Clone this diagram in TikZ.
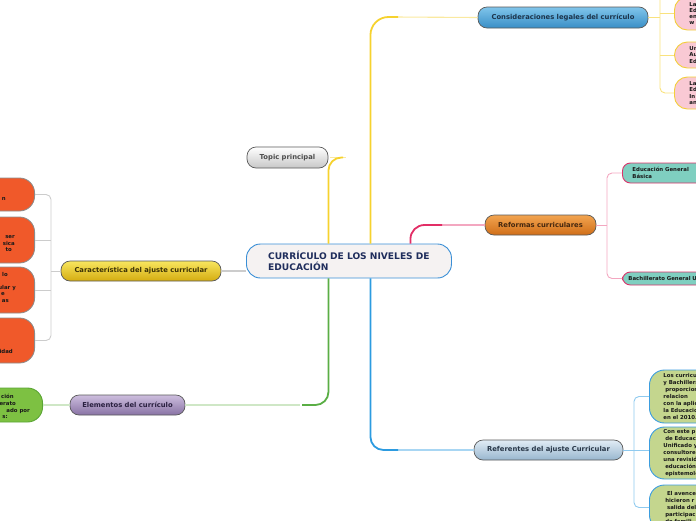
\documentclass[tikz,border=0pt]{standalone}
\usepackage{fontspec}
\setmainfont{DejaVu Sans}
\definecolor{cenfill}{HTML}{F5F2F2}
\definecolor{cenline}{HTML}{3A8FD6}
\definecolor{centext}{HTML}{1F2D5C}
\definecolor{ystrong}{HTML}{F6D22E}
\definecolor{ylight}{HTML}{FAE9A0}
\definecolor{rstrong}{HTML}{E22E66}
\definecolor{rlight}{HTML}{F3A7C0}
\definecolor{bstrong}{HTML}{2C9BE0}
\definecolor{blight}{HTML}{A8D6F3}
\definecolor{gstrong}{HTML}{5AAE45}
\definecolor{glight}{HTML}{CFE7C6}
\definecolor{graylink}{HTML}{CCCCCC}
\definecolor{pinkfill}{HTML}{F9C9D4}
\definecolor{pinkline}{HTML}{F2CF3A}
\definecolor{tealfill}{HTML}{7FCFC0}
\definecolor{tealline}{HTML}{D9336A}
\definecolor{olivefill}{HTML}{C4D68E}
\definecolor{oliveline}{HTML}{3B9DE0}
\definecolor{orangefill}{HTML}{F0592A}
\definecolor{greenfill}{HTML}{7DC142}
\definecolor{greenline}{HTML}{5AA534}
\begin{document}
\begin{tikzpicture}[x=1pt,y=-1pt,
  mainnode/.style={rounded corners=9pt, draw=black!65, line width=0.7pt,
    font=\bfseries\fontsize{6.8}{8}\selectfont, inner sep=0pt, minimum height=20pt},
  kid/.style={font=\bfseries\fontsize{5.4}{6.3}\selectfont, text=black!90, align=left, anchor=west, inner ysep=0pt},
  pinkkid/.style={kid, draw=pinkline, line width=0.9pt, fill=pinkfill, rounded corners=13pt, text width=90pt, inner xsep=15pt},
  tealkid/.style={kid, draw=tealline, line width=0.9pt, fill=tealfill, rounded corners=8pt, text width=110pt},
  olivekid/.style={kid, draw=oliveline, line width=0.9pt, fill=olivefill, rounded corners=15pt, text width=90pt, inner xsep=14pt, font=\bfseries\fontsize{5.4}{7.1}\selectfont},
  orangekid/.style={draw=black!45, line width=0.8pt, fill=orangefill, rounded corners=15pt, anchor=east, minimum width=80pt, inner sep=0pt},
  lefttext/.style={font=\bfseries\fontsize{5.4}{6}\selectfont, text=black!90, anchor=base east, inner sep=0pt},
  strongline/.style={line width=1.8pt, rounded corners=13pt},
  lightline/.style={line width=1.1pt},
  kidline/.style={line width=0.9pt, rounded corners=5pt}
]
\useasboundingbox (0,0) rectangle (696,520);
\clip (0,0) rectangle (696,520);

% ---------- main topics ----------
\node[rounded corners=14pt, draw=cenline, line width=0.9pt, fill=cenfill, text=centext,
  font=\bfseries\fontsize{9.1}{11}\selectfont, align=left, inner xsep=19pt, inner ysep=0pt,
  minimum width=205pt, minimum height=34pt, anchor=west] (cen) at (246,261)
  {CURRÍCULO DE LOS NIVELES DE\\EDUCACIÓN};

\node[mainnode, top color=white, bottom color=black!22, text=black!70,
  minimum width=81pt, minimum height=21pt] (topic) at (287.5,157.5) {Topic principal};
\node[mainnode, top color={rgb,255:red,128;green,197;blue,235}, bottom color={rgb,255:red,56;green,142;blue,198},
  text={rgb,255:red,28;green,52;blue,75}, minimum width=170pt, minimum height=21pt] (cons) at (563,17.5)
  {Consideraciones legales del currículo};
\node[mainnode, top color={rgb,255:red,242;green,164;blue,80}, bottom color={rgb,255:red,208;green,110;blue,24},
  text={rgb,255:red,70;green,40;blue,15}, minimum width=111pt] (ref) at (540.5,225) {Reformas curriculares};
\node[mainnode, top color={rgb,255:red,225;green,236;blue,245}, bottom color={rgb,255:red,152;green,182;blue,206},
  text={rgb,255:red,40;green,55;blue,72}, minimum width=149pt] (aju) at (548.5,450) {Referentes del ajuste Curricular};
\node[mainnode, top color={rgb,255:red,248;green,230;blue,95}, bottom color={rgb,255:red,212;green,172;blue,16},
  text={rgb,255:red,60;green,50;blue,5}, minimum width=160pt] (car) at (141,271) {Característica del ajuste curricular};
\node[mainnode, top color={rgb,255:red,205;green,190;blue,222}, bottom color={rgb,255:red,136;green,114;blue,164},
  text={rgb,255:red,42;green,32;blue,64}, minimum width=115pt] (ele) at (127.5,405) {Elementos del currículo};

% ---------- children: consideraciones ----------
\node[pinkkid, minimum height=33pt] (c1) at (674,13.5) {La\\Ed\\en\\w};
\node[pinkkid, minimum height=26pt] (c2) at (674,55) {Un\\Au\\Ed};
\node[pinkkid, minimum height=32pt] (c3) at (674,93) {La\\Ed\\In\\an};

% ---------- children: reformas ----------
\node[tealkid, minimum height=20pt, inner xsep=10pt] (r1) at (622,173) {Educación General\\Básica};
\node[tealkid, minimum height=13pt, inner xsep=6pt] (r2) at (622,278.5) {Bachillerato General U};

% ---------- children: referentes ----------
\node[olivekid, minimum height=53pt] (f1) at (649,396.5)
  {Los curricu\\y Bachillera\\\ proporcion\\relacion\\con la aplic\\la Educacio\\en el 2010.};
\node[olivekid, minimum height=52pt] (f2) at (649,453)
  {Con este p\\\ de Educaci\\Unificado y\\consultore\\una revisió\\\ educación\\\ epistemoló};
\node[olivekid, minimum height=45pt] (f3) at (649,507.5)
  {\ \ El avence\\\ hicieron r\\\ \ salida del\\\ participac\\\ de famili};

% ---------- children: caracteristica ----------
\node[orangekid, minimum height=33pt] (o1) at (35,194.5) {};
\node[orangekid, minimum height=46pt] (o2) at (35,240) {};
\node[orangekid, minimum height=46pt] (o3) at (35,290) {};
\node[orangekid, minimum height=45pt] (o4) at (35,340.5) {};
\node[lefttext] (o1a) at (6,200) {n};
\node[lefttext] (o2a) at (15,238) {ser};
\node[lefttext] (o2b) at (15,245) {sica};
\node[lefttext] (o2c) at (12,251) {to};
\node[lefttext] (o3a) at (8,276) {lo};
\node[lefttext] (o3b) at (16,289) {ular y};
\node[lefttext] (o3c) at (5,295) {e};
\node[lefttext] (o3d) at (9,302) {as};
\node[lefttext] (o4a) at (13,353) {idad};

% ---------- child: elementos ----------
\node[draw=greenline, line width=0.9pt, fill=greenfill, rounded corners=15pt, anchor=east,
  minimum width=80pt, minimum height=34pt, inner sep=0pt] (g1) at (43,405) {};
\node[lefttext] (g1a) at (14,398) {ción};
\node[lefttext] (g1b) at (16,405) {lerato};
\node[lefttext] (g1c) at (30,412) {ado por};
\node[lefttext] (g1d) at (8,418) {s:};

% ---------- connectors from central ----------
\draw[ylight, lightline] (395,17) -- (cons.west);
\draw[ystrong, strongline, rounded corners=18pt] ([xshift=21.5pt]cen.north) |- (398,17);
\draw[ylight, lightline] (330,157.5) -- ([xshift=18pt]topic.east);
\draw[ystrong, strongline] ([xshift=-20.5pt]cen.north) |- (343,157.5);

\draw[rlight, lightline] (440,225) -- (ref.west);
\draw[rstrong, strongline, rounded corners=14pt] ([xshift=61.5pt]cen.north) |- (442,225);

\draw[blight, lightline] (395,450) -- (aju.west);
\draw[bstrong, strongline] ([xshift=21.5pt]cen.south) |- (398,450);

\draw[glight, lightline] (300,405) -- (ele.east);
\draw[gstrong, strongline] ([xshift=-20.5pt]cen.south) |- (302,405);

\draw[graylink, lightline] (car.east) -- (car.east -| cen.west);

% ---------- children connectors ----------
\draw[ylight!70!ystrong, kidline] (cons.east) -- (660,17.5);
\draw[ylight!70!ystrong, kidline] (660,-5) |- (c3.west);
\draw[ylight!70!ystrong, kidline] (660,13.5) -- (c1.west);
\draw[ylight!70!ystrong, kidline] (660,55) -- (c2.west);

\draw[rlight, kidline] (ref.east) -- (607,225);
\draw[rlight, kidline] (r1.west) -| (607,225) |- (r2.west);

\draw[blight!80!bstrong, kidline] (aju.east) -- (aju.east -| f2.west);
\draw[blight!80!bstrong, kidline] (f1.west) -| (634,450) |- (f3.west);

\draw[graylink, kidline] (car.west) -- (51,271);
\draw[graylink, kidline] (o1.east) -| (51,271) |- (o4.east);
\draw[graylink, kidline] (o2.east) -- ++(16,0);
\draw[graylink, kidline] (o3.east) -- ++(16,0);

\draw[glight, lightline] (ele.west) -- (g1.east);
\end{tikzpicture}
\end{document}
